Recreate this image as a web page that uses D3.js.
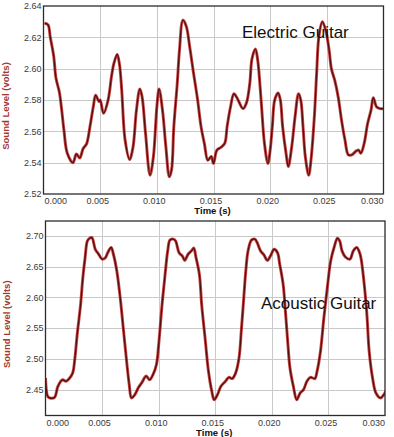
<!DOCTYPE html>
<html lang="en">
<head>
    <meta charset="UTF-8">
    <title>Electric vs Acoustic Guitar Waveforms</title>
    <script src="https://d3js.org/d3.v7.min.js"></script>
    <style>
        body {
            margin: 0;
            background: #fff;
            font-family: Arial, "Liberation Sans", sans-serif;
        }
        .grid line {
            stroke: #c9c9c9;
            stroke-width: 1px;
        }
        .tick-label {
            font-size: 9px;
            fill: #3a3a3a;
        }
        .axis-title {
            font-size: 9.5px;
            font-weight: bold;
        }
        .chart-title {
            font-size: 17px;
            fill: #111;
        }
    </style>
</head>
<body>
    <div id="chart"></div>

    <script>
        // Electric guitar trace (time in s, level in volts)
        const electricTime = [0.0001, 0.0004, 0.0006, 0.0009, 0.0011, 0.0014, 0.0016, 0.0018, 0.0021, 0.0026,
            0.0029, 0.0032, 0.0035, 0.0038, 0.0041, 0.0044, 0.0046, 0.0049, 0.0050, 0.0053,
            0.0057, 0.0060, 0.0062, 0.0065, 0.0067, 0.0069, 0.0072, 0.0076, 0.0079, 0.0082,
            0.0085, 0.0087, 0.0090, 0.0094, 0.0097, 0.0100, 0.0102, 0.0105, 0.0108, 0.0111,
            0.0113, 0.0115, 0.0118, 0.0120, 0.0123, 0.0126, 0.0129, 0.0132, 0.0136, 0.0139,
            0.0142, 0.0145, 0.0148, 0.0150, 0.0153, 0.0157, 0.0160, 0.0162, 0.0165, 0.0168,
            0.0171, 0.0176, 0.0179, 0.0182, 0.0184, 0.0187, 0.0189, 0.0192, 0.0195, 0.0198,
            0.0200, 0.0202, 0.0204, 0.0207, 0.0209, 0.0211, 0.0214, 0.0216, 0.0219, 0.0222,
            0.0225, 0.0227, 0.0229, 0.0231, 0.0234, 0.0236, 0.0239, 0.0241, 0.0243, 0.0246,
            0.0249, 0.0252, 0.0254, 0.0257, 0.0260, 0.0263, 0.0266, 0.0269, 0.0272, 0.0276,
            0.0278, 0.0280, 0.0283, 0.0286, 0.0289, 0.0291, 0.0294, 0.0297, 0.0300];
        const electricVolts = [2.629, 2.628, 2.620, 2.608, 2.594, 2.585, 2.574, 2.561, 2.546, 2.540,
            2.5455, 2.543, 2.549, 2.552, 2.563, 2.576, 2.583, 2.579, 2.580, 2.5715,
            2.580, 2.595, 2.603, 2.609, 2.603, 2.5865, 2.5545, 2.542, 2.550, 2.5735,
            2.587, 2.582, 2.559, 2.532, 2.544, 2.5755, 2.587, 2.5735, 2.550, 2.531,
            2.5355, 2.563, 2.5905, 2.612, 2.631, 2.627, 2.614, 2.599, 2.580, 2.563,
            2.552, 2.5415, 2.544, 2.5395, 2.548, 2.550, 2.5525, 2.563, 2.5755, 2.584,
            2.581, 2.5745, 2.578, 2.5905, 2.6065, 2.6125, 2.6055, 2.580, 2.552, 2.5395,
            2.548, 2.564, 2.580, 2.5845, 2.580, 2.563, 2.546, 2.5375, 2.550, 2.5695,
            2.584, 2.580, 2.563, 2.544, 2.532, 2.5415, 2.5695, 2.597, 2.6205, 2.630,
            2.6245, 2.612, 2.600, 2.5925, 2.582, 2.567, 2.5545, 2.545, 2.545, 2.5475,
            2.548, 2.546, 2.5525, 2.565, 2.5735, 2.5815, 2.5755, 2.5745, 2.5745];

        // Acoustic guitar trace
        const acousticTime = [0.0000, 0.0002, 0.0004, 0.0008, 0.0011, 0.0015, 0.0018, 0.0021, 0.0024, 0.0026,
            0.0028, 0.0031, 0.0033, 0.0035, 0.0037, 0.0039, 0.0041, 0.0044, 0.0047, 0.0050,
            0.0053, 0.0055, 0.0058, 0.0060, 0.0063, 0.0066, 0.0069, 0.0072, 0.0074, 0.0076,
            0.0079, 0.0082, 0.0085, 0.0089, 0.0092, 0.0095, 0.0098, 0.0100, 0.0103, 0.0106,
            0.0108, 0.0110, 0.0113, 0.0115, 0.0118, 0.0121, 0.0123, 0.0126, 0.0129, 0.0131,
            0.0133, 0.0136, 0.0138, 0.0141, 0.0144, 0.0147, 0.0149, 0.0152, 0.0155, 0.0159,
            0.0162, 0.0165, 0.0168, 0.0171, 0.0173, 0.0175, 0.0177, 0.0179, 0.0182, 0.0185,
            0.0187, 0.0190, 0.0193, 0.0196, 0.0199, 0.0202, 0.0205, 0.0207, 0.0210, 0.0212,
            0.0214, 0.0216, 0.0219, 0.0222, 0.0225, 0.0228, 0.0231, 0.0234, 0.0238, 0.0240,
            0.0243, 0.0246, 0.0249, 0.0252, 0.0255, 0.0258, 0.0260, 0.0262, 0.0265, 0.0269,
            0.0272, 0.0275, 0.0278, 0.0281, 0.0284, 0.0286, 0.0289, 0.0292, 0.0296, 0.0299,
            0.0301];
        const acousticVolts = [2.469, 2.439, 2.4365, 2.4375, 2.4555, 2.466, 2.4635, 2.468, 2.477, 2.5015,
            2.5395, 2.588, 2.632, 2.6645, 2.6915, 2.696, 2.697, 2.678, 2.670, 2.662,
            2.6645, 2.6725, 2.681, 2.670, 2.643, 2.5995, 2.545, 2.4905, 2.458, 2.4365,
            2.442, 2.453, 2.461, 2.472, 2.466, 2.4745, 2.4905, 2.523, 2.588, 2.643,
            2.6755, 2.693, 2.6945, 2.6915, 2.6725, 2.667, 2.660, 2.670, 2.6755, 2.680,
            2.6645, 2.637, 2.588, 2.534, 2.480, 2.447, 2.4335, 2.442, 2.4555, 2.4635,
            2.470, 2.468, 2.477, 2.5015, 2.545, 2.594, 2.643, 2.6755, 2.693, 2.6945,
            2.689, 2.6755, 2.669, 2.660, 2.668, 2.678, 2.6725, 2.6535, 2.621, 2.5775,
            2.529, 2.4855, 2.4555, 2.4335, 2.4445, 2.450, 2.4635, 2.470, 2.468, 2.480,
            2.5125, 2.567, 2.6155, 2.659, 2.681, 2.696, 2.6915, 2.6755, 2.6655, 2.662,
            2.6755, 2.681, 2.670, 2.632, 2.572, 2.5125, 2.469, 2.4445, 2.4365, 2.442,
            2.4485];

        // Tick labels
        const timeTicks = [0.000, 0.005, 0.010, 0.015, 0.020, 0.025, 0.030];
        const electricTicks = [2.52, 2.54, 2.56, 2.58, 2.60, 2.62, 2.64];
        const acousticTicks = [2.45, 2.50, 2.55, 2.60, 2.65, 2.70];

        const width = 394;
        const height = 437;

        const svg = d3.select("#chart")
            .append("svg")
            .attr("width", width)
            .attr("height", height);

        const panels = [
            {
                id: "electric", title: "Electric Guitar",
                time: electricTime, volts: electricVolts, ticks: electricTicks,
                yDomain: [2.52, 2.64], box: { left: 43.5, right: 383.5, top: 6, bottom: 194 },
                titleX: 242, titleY: 38
            },
            {
                id: "acoustic", title: "Acoustic Guitar",
                time: acousticTime, volts: acousticVolts, ticks: acousticTicks,
                yDomain: [2.408, 2.724], box: { left: 45.5, right: 385, top: 221, bottom: 415.5 },
                titleX: 261, titleY: 309
            }
        ];

        panels.forEach(p => {
            const b = p.box;
            const x = d3.scaleLinear().domain([0, 0.030]).range([b.left, b.right]);
            const y = d3.scaleLinear().domain(p.yDomain).range([b.bottom, b.top]);
            const g = svg.append("g");

            // Grid
            const grid = g.append("g").attr("class", "grid");
            grid.selectAll(".gx")
                .data(timeTicks.filter(t => t > 0 && x(t) < b.right - 1))
                .enter().append("line")
                .attr("x1", d => Math.round(x(d)) + 0.5)
                .attr("x2", d => Math.round(x(d)) + 0.5)
                .attr("y1", b.top).attr("y2", b.bottom);
            grid.selectAll(".gy")
                .data(p.ticks.filter(v => y(v) > b.top + 1 && y(v) < b.bottom - 1))
                .enter().append("line")
                .attr("x1", b.left).attr("x2", b.right)
                .attr("y1", d => Math.round(y(d)) + 0.5)
                .attr("y2", d => Math.round(y(d)) + 0.5);

            // Signal line
            g.append("clipPath").attr("id", "clip-" + p.id)
                .append("rect")
                .attr("x", b.left).attr("y", b.top)
                .attr("width", b.right - b.left).attr("height", b.bottom - b.top);

            const points = p.time.map((t, i) => [t, p.volts[i]]);
            const line = d3.line()
                .x(d => x(d[0]))
                .y(d => y(d[1]))
                .curve(d3.curveCatmullRom.alpha(0.5));

            const lines = g.append("g").attr("clip-path", `url(#clip-${p.id})`);
            lines.append("path")
                .datum(points)
                .attr("fill", "none")
                .attr("stroke", "#c02a2a")
                .attr("stroke-width", 3)
                .attr("stroke-opacity", 0.85)
                .attr("stroke-linejoin", "round")
                .attr("d", line);
            lines.append("path")
                .datum(points)
                .attr("fill", "none")
                .attr("stroke", "#5e0d0d")
                .attr("stroke-width", 1.4)
                .attr("stroke-linejoin", "round")
                .attr("d", line);

            // Frame
            g.append("rect")
                .attr("x", b.left).attr("y", b.top)
                .attr("width", b.right - b.left).attr("height", b.bottom - b.top)
                .attr("fill", "none")
                .attr("stroke", "#2b2b2b")
                .attr("stroke-width", 1.3);

            // Y tick labels
            g.selectAll(".ylab")
                .data(p.ticks)
                .enter().append("text")
                .attr("class", "tick-label")
                .attr("x", b.left - 2)
                .attr("y", d => y(d) + 3.2)
                .attr("text-anchor", "end")
                .text(d => d.toFixed(2));

            // X tick labels (first and last kept inside the frame)
            g.selectAll(".xlab")
                .data(timeTicks)
                .enter().append("text")
                .attr("class", "tick-label")
                .attr("x", (d, i) => i === 0 ? b.left + 1 : i === timeTicks.length - 1 ? b.right : x(d) - 2.5)
                .attr("y", b.bottom + 10)
                .attr("text-anchor", (d, i) => i === 0 ? "start" : i === timeTicks.length - 1 ? "end" : "middle")
                .text(d => d.toFixed(3));

            g.append("text")
                .attr("class", "axis-title")
                .attr("x", (b.left + b.right) / 2 - 1)
                .attr("y", b.bottom + 20)
                .attr("text-anchor", "middle")
                .attr("fill", "#111")
                .text("Time (s)");

            const cy = (b.top + b.bottom) / 2 + 6;
            g.append("text")
                .attr("class", "axis-title")
                .attr("transform", `translate(${p.id === "electric" ? 9 : 10},${cy}) rotate(-90)`)
                .attr("text-anchor", "middle")
                .attr("fill", "#a33a30")
                .text("Sound Level (volts)");

            g.append("text")
                .attr("class", "chart-title")
                .attr("x", p.titleX)
                .attr("y", p.titleY)
                .text(p.title);
        });
    </script>
</body>
</html>
